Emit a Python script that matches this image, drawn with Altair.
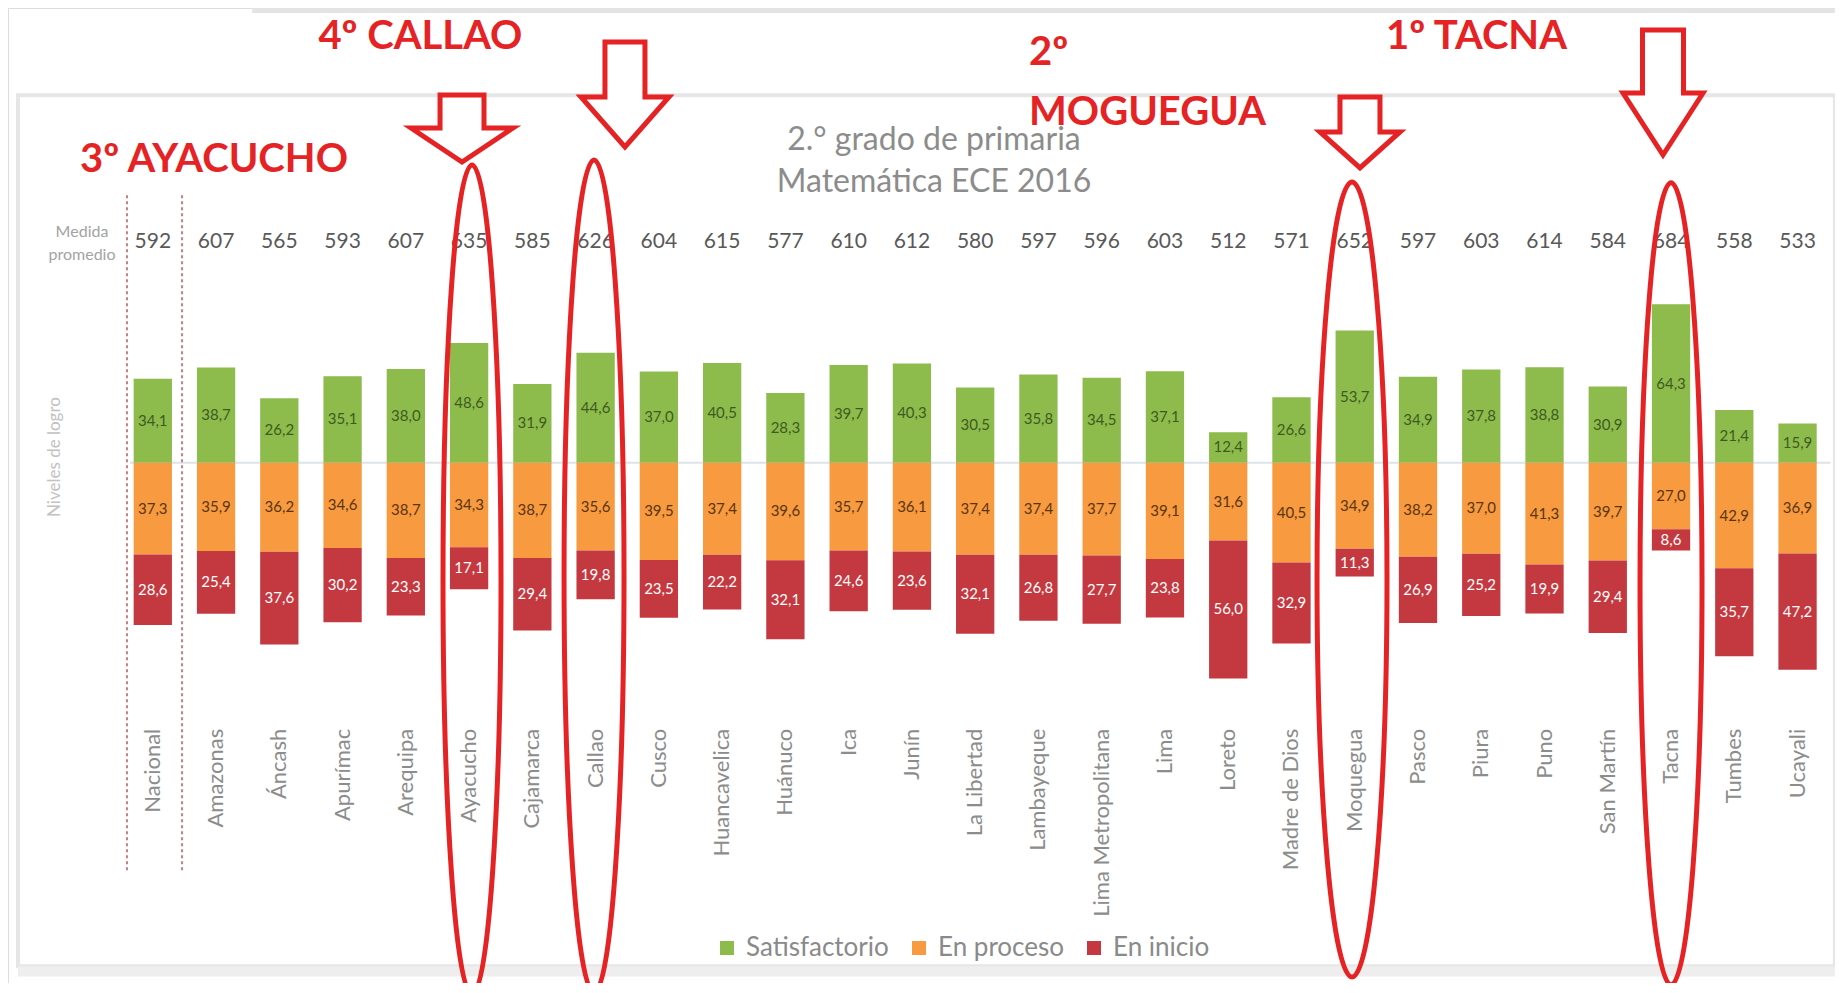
import altair as alt
import pandas as pd

# ---------------- data ----------------
regiones = ["Nacional", "Amazonas", "Áncash", "Apurímac", "Arequipa", "Ayacucho",
            "Cajamarca", "Callao", "Cusco", "Huancavelica", "Huánuco", "Ica", "Junín",
            "La Libertad", "Lambayeque", "Lima Metropolitana", "Lima", "Loreto",
            "Madre de Dios", "Moquegua", "Pasco", "Piura", "Puno", "San Martín",
            "Tacna", "Tumbes", "Ucayali"]
medida = [592, 607, 565, 593, 607, 635, 585, 626, 604, 615, 577, 610, 612, 580,
          597, 596, 603, 512, 571, 652, 597, 603, 614, 584, 684, 558, 533]
satisfactorio = [34.1, 38.7, 26.2, 35.1, 38.0, 48.6, 31.9, 44.6, 37.0, 40.5, 28.3,
                 39.7, 40.3, 30.5, 35.8, 34.5, 37.1, 12.4, 26.6, 53.7, 34.9, 37.8,
                 38.8, 30.9, 64.3, 21.4, 15.9]
en_proceso = [37.3, 35.9, 36.2, 34.6, 38.7, 34.3, 38.7, 35.6, 39.5, 37.4, 39.6,
              35.7, 36.1, 37.4, 37.4, 37.7, 39.1, 31.6, 40.5, 34.9, 38.2, 37.0,
              41.3, 39.7, 27.0, 42.9, 36.9]
en_inicio = [28.6, 25.4, 37.6, 30.2, 23.3, 17.1, 29.4, 19.8, 23.5, 22.2, 32.1,
             24.6, 23.6, 32.1, 26.8, 27.7, 23.8, 56.0, 32.9, 11.3, 26.9, 25.2,
             19.9, 29.4, 8.6, 35.7, 47.2]
niveles = ["Satisfactorio", "En proceso", "En inicio"]
colores = ["#8dbb4c", "#f79a40", "#c4393f"]
colores_etiqueta = ["#3e5b1f", "#5a3510", "#ffffff"]

titulo = ["2.° grado de primaria", "Matemática  ECE 2016"]
destacados = ["4º CALLAO", "3º AYACUCHO", "2º", "MOGUEGUA", "1º TACNA"]

# ---------------- tables ----------------
def fmt(v):
    return f"{v:.1f}".replace(".", ",")

rows = []
for i, r in enumerate(regiones):
    s, p, n = satisfactorio[i], en_proceso[i], en_inicio[i]
    rows.append(dict(idx=i, region=r, nivel=niveles[0], y0=0, y1=s, lab=fmt(s)))
    rows.append(dict(idx=i, region=r, nivel=niveles[1], y0=0, y1=-p, lab=fmt(p)))
    rows.append(dict(idx=i, region=r, nivel=niveles[2], y0=-p, y1=-(p + n), lab=fmt(n)))
segs = pd.DataFrame(rows)
reg = pd.DataFrame(dict(idx=list(range(len(regiones))), region=regiones,
                        medida=[str(m) for m in medida]))

# ---------------- layout (data units: column index / percent) ----------------
W, H = 1827, 975
XS = alt.Scale(domain=[-2.289, 26.592], nice=False, zero=False)
YS = alt.Scale(domain=[-211.25, 184.61], nice=False, zero=False)
HALF = 0.3027
RED = "#e52325"


def X(f):
    return alt.X(f, type="quantitative", scale=XS, axis=None)


def Y(f):
    return alt.Y(f, type="quantitative", scale=YS, axis=None)


def box(a, b, c, d, **kw):
    return alt.Chart(pd.DataFrame([dict(a=a, b=b, c=c, d=d)])).mark_rect(clip=True, **kw).encode(
        x=X("a"), x2="b", y=Y("c"), y2="d")


frame = box(-2.131, 26.59, 149.2, -204.4, fill="white", stroke="#e6e6e6", strokeWidth=4)
shadow = box(-2.131, 26.59, -204.4, -208.6, fill="#eeeeee")
topband = box(1.571, 26.59, 184.6, 182.6, fill="#e4e4e4")

baseline = alt.Chart(pd.DataFrame([dict(a=-0.36, b=26.52, c=0)])).mark_rule(
    color="#dce3ea", strokeWidth=2
).encode(x=X("a"), x2="b", y=Y("c"))

dashed = alt.Chart(pd.DataFrame([dict(a=-0.408, c=108.6, d=-166.5),
                                 dict(a=0.462, c=108.6, d=-166.5)])).mark_rule(
    color="#b03a3a", strokeWidth=1.3, strokeDash=[3, 3]
).encode(x=X("a"), y=Y("c"), y2="d")

bars = alt.Chart(segs).transform_calculate(
    xl=f"datum.idx - {HALF}", xr=f"datum.idx + {HALF}"
).mark_bar().encode(
    x=X("xl"), x2="xr", y=Y("y0"), y2="y1",
    color=alt.Color("nivel:N", scale=alt.Scale(domain=niveles, range=colores),
                    legend=alt.Legend(orient="none", legendX=706, legendY=927,
                                      direction="horizontal", title=None,
                                      symbolType="square", symbolSize=196,
                                      symbolStrokeWidth=0, labelFontSize=26,
                                      labelColor="#8a8a8a", labelFont="Lato",
                                      labelOffset=6, columnPadding=17)),
)

seg_labels = []
for nv, lc in zip(niveles, colores_etiqueta):
    seg_labels.append(
        alt.Chart(segs).transform_filter(f"datum.nivel == '{nv}'").transform_calculate(
            ym="(datum.y0 + datum.y1) / 2"
        ).mark_text(fontSize=15, font="Lato", baseline="middle", color=lc).encode(
            x=X("idx"), y=Y("ym"), text="lab:N")
    )

medida_txt = alt.Chart(reg).transform_calculate(ym="89.6").mark_text(
    fontSize=21, font="Lato", color="#595959", baseline="middle").encode(
    x=X("idx"), y=Y("ym"), text="medida:N")

medida_lbl = alt.Chart(pd.DataFrame([dict(a=-1.119, c=93.6, t="Medida"),
                                     dict(a=-1.119, c=84.3, t="promedio")])).mark_text(
    fontSize=16, font="Lato", color="#a3a3a3", baseline="middle", align="center"
).encode(x=X("a"), y=Y("c"), text="t:N")

ytitle = alt.Chart(pd.DataFrame([dict(a=-1.546, c=2.3, t="Niveles de logro")])).mark_text(
    fontSize=17, font="Lato", color="#c2c2c2", angle=270, baseline="middle", align="center"
).encode(x=X("a"), y=Y("c"), text="t:N")

reg_lbl = alt.Chart(reg).transform_calculate(ym="-108.0").mark_text(
    fontSize=22, font="Lato", color="#8c8c8c", angle=270,
    align="right", baseline="middle").encode(
    x=X("idx"), y=Y("ym"), text="region:N")

title_df = pd.DataFrame([dict(a=12.349, c=131.0, t=titulo[0]),
                         dict(a=12.349, c=113.9, t=titulo[1])])
title_txt = alt.Chart(title_df).mark_text(fontSize=32, font="Lato", color="#8c8c8c",
                                          baseline="middle", align="center").encode(
    x=X("a"), y=Y("c"), text="t:N")


# red annotations (custom symbol paths in a -1..1 box)
def ellipse(rx):
    k = 0.5523
    return (f"M0,-1 C{k*rx:.4f},-1 {rx},{-k} {rx},0 C{rx},{k} {k*rx:.4f},1 0,1 "
            f"C{-k*rx:.4f},1 {-rx},{k} {-rx},0 C{-rx},{-k} {-k*rx:.4f},-1 0,-1 Z")


def arrow(top, sh, tip, sw, hw):
    return (f"M{-sw},{top} L{sw},{top} L{sw},{sh} L{hw},{sh} L0,{tip} "
            f"L{-hw},{sh} L{-sw},{sh} Z")


ellipse_specs = [
    (5.046, -47.6, ellipse(0.0699), 688900),
    (6.975, -46.2, ellipse(0.072), 693889),
    (18.957, -47.4, ellipse(0.088), 632025),
    (24.0, -49.2, ellipse(0.0773), 643204),
]
arrow_specs = [
    (4.888, 135.7, arrow(-0.657, -0.01, 0.657, 0.431, 1.0), 10404),
    (7.464, 149.5, arrow(-1.0, 0.048, 1.0, 0.381, 0.838), 11025),
    (19.083, 134.1, arrow(-0.8875, -0.0125, 0.8875, 0.5, 1.0), 6400),
    (23.873, 150.3, arrow(-1.0, 0.008, 1.0, 0.328, 0.64), 15625),
]

shapes = []
for a, c, path, size in ellipse_specs:
    shapes.append(alt.Chart(pd.DataFrame([dict(a=a, c=c)])).mark_point(
        shape=path, size=size, filled=False, color=RED, strokeWidth=5,
        opacity=1, clip=True).encode(x=X("a"), y=Y("c")))
for a, c, path, size in arrow_specs:
    shapes.append(alt.Chart(pd.DataFrame([dict(a=a, c=c)])).mark_point(
        shape=path, size=size, filled=True, fill="white", stroke=RED,
        strokeWidth=5, opacity=1, clip=True).encode(x=X("a"), y=Y("c")))

# baselines of the red labels (alphabetic)
ann_df = pd.DataFrame([
    dict(a=4.230, c=167.9, t=destacados[0], al="center"),
    dict(a=0.967, c=118.0, t=destacados[1], al="center"),
    dict(a=13.851, c=161.5, t=destacados[2], al="left"),
    dict(a=13.851, c=137.1, t=destacados[3], al="left"),
    dict(a=20.925, c=167.9, t=destacados[4], al="center"),
])
ann = []
for al in ["center", "left"]:
    ann.append(alt.Chart(ann_df).transform_filter(f"datum.al == '{al}'").mark_text(
        fontSize=40, font="Lato", fontWeight="bold", color=RED, baseline="alphabetic",
        align=al).encode(x=X("a"), y=Y("c"), text="t:N"))

chart = alt.layer(
    frame, shadow, topband, baseline, dashed, bars, *seg_labels, medida_txt,
    medida_lbl, ytitle, reg_lbl, title_txt, *shapes, *ann
).properties(
    width=W, height=H, padding=0,
).configure_view(stroke=None).configure(font="Lato")

chart.save("out.html", embed_options={"renderer": "svg", "actions": False})
